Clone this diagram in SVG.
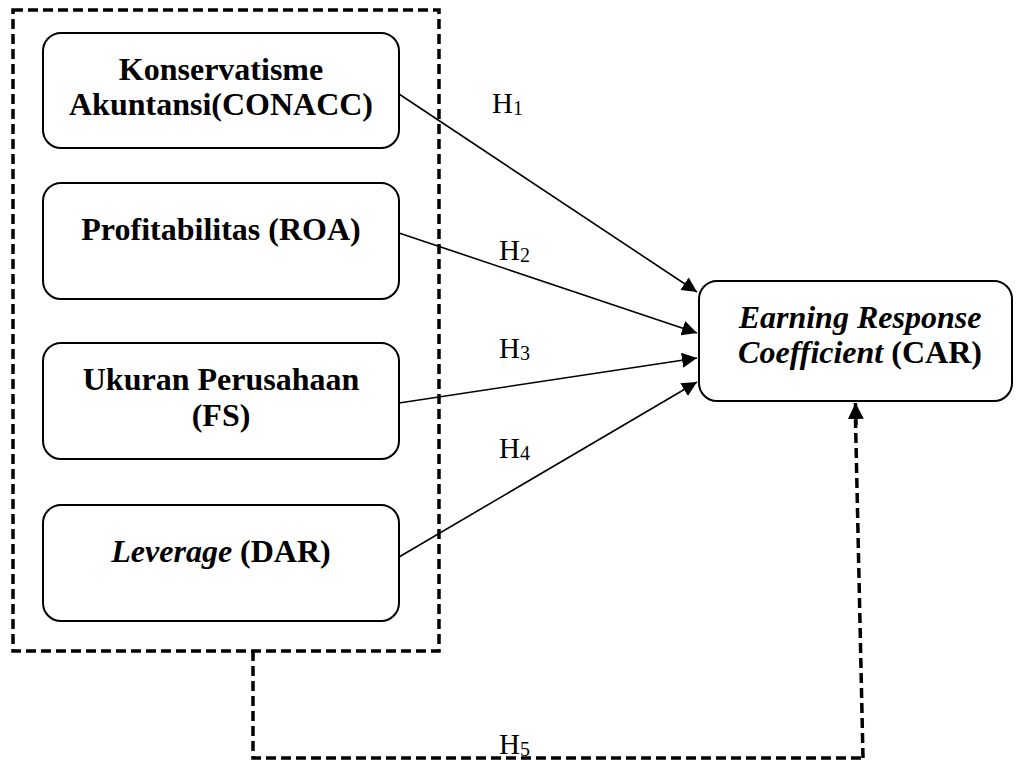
<svg xmlns="http://www.w3.org/2000/svg" width="1017" height="760" viewBox="0 0 1017 760">
<defs>
<marker id="ah" viewBox="0 0 10 10" refX="10" refY="5" markerWidth="15" markerHeight="15" markerUnits="userSpaceOnUse" orient="auto"><path d="M0,0 L10,5 L0,10 z" fill="#000"/></marker>
<marker id="ahd" viewBox="0 0 10 10" refX="10" refY="5" markerWidth="16" markerHeight="16" markerUnits="userSpaceOnUse" orient="auto"><path d="M0,0 L10,5 L0,10 z" fill="#000"/></marker>
</defs>
<style>
.box{fill:#fff;stroke:#000;stroke-width:2}
.t{font-family:"Liberation Serif",serif;font-size:32px;font-weight:bold;text-anchor:middle;fill:#000}
.i{font-style:italic}
.h{font-family:"Liberation Serif",serif;font-size:29px;fill:#000}
.sub{font-size:20px}
.dash{fill:none;stroke:#000;stroke-width:3.5;stroke-dasharray:10,5}
.ln{fill:none;stroke:#000;stroke-width:1.6}
</style>
<rect width="1017" height="760" fill="#fff"/>
<g id="group-box">
<rect class="dash" x="13" y="10" width="426" height="641"/>
</g>
<g id="connectors">
<line class="ln" x1="399" y1="94" x2="697" y2="292" marker-end="url(#ah)"/>
<line class="ln" x1="399" y1="233" x2="697" y2="333" marker-end="url(#ah)"/>
<line class="ln" x1="399" y1="403" x2="697" y2="358" marker-end="url(#ah)"/>
<line class="ln" x1="399" y1="557" x2="697" y2="382" marker-end="url(#ah)"/>
<polyline class="dash" points="253,651 253,758 863,758"/>
<line class="dash" x1="863" y1="758" x2="855.5" y2="420" stroke-dasharray="14,6"/>
<line x1="856" y1="425" x2="855.5" y2="403" stroke="#000" stroke-width="3.5" marker-end="url(#ahd)"/>
<text class="h" x="492" y="113">H<tspan class="sub" dy="2">1</tspan></text>
<text class="h" x="499" y="260">H<tspan class="sub" dy="2">2</tspan></text>
<text class="h" x="499" y="358">H<tspan class="sub" dy="2">3</tspan></text>
<text class="h" x="499" y="458">H<tspan class="sub" dy="2">4</tspan></text>
<text class="h" x="499" y="754">H<tspan class="sub" dy="2">5</tspan></text>
</g>
<g id="node-conacc">
<rect class="box" x="43" y="33" width="356" height="115" rx="18"/>
<text class="t" x="221" y="80">Konservatisme</text>
<text class="t" x="221" y="115">Akuntansi(CONACC)</text>
</g>
<g id="node-roa">
<rect class="box" x="43" y="183" width="356" height="116" rx="18"/>
<text class="t" x="221" y="240">Profitabilitas (ROA)</text>
</g>
<g id="node-fs">
<rect class="box" x="43" y="343" width="356" height="116" rx="18"/>
<text class="t" x="221" y="390">Ukuran Perusahaan</text>
<text class="t" x="221" y="426">(FS)</text>
</g>
<g id="node-dar">
<rect class="box" x="43" y="505" width="356" height="116" rx="18"/>
<text class="t" x="221" y="562"><tspan class="i">Leverage</tspan> (DAR)</text>
</g>
<g id="node-car">
<rect class="box" x="699" y="281" width="313" height="120" rx="18"/>
<text class="t" x="860" y="328"><tspan class="i">Earning Response</tspan></text>
<text class="t" x="860" y="363"><tspan class="i">Coefficient</tspan> (CAR)</text>
</g>
</svg>
